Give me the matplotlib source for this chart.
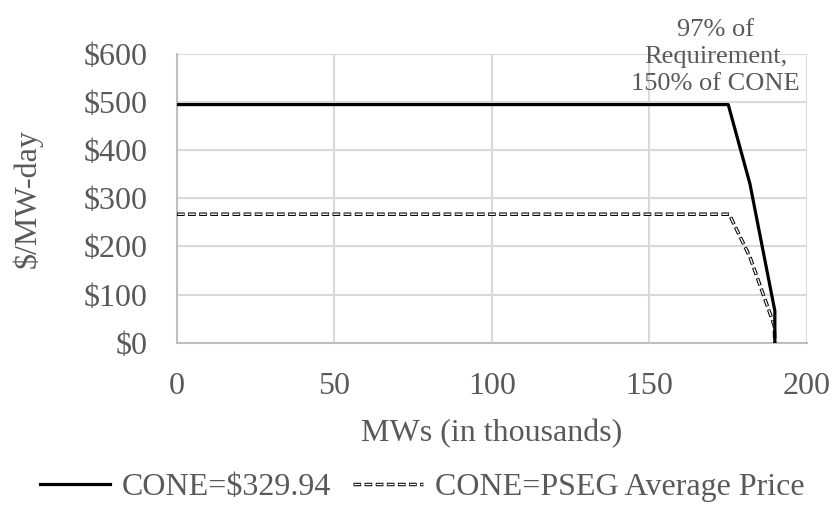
import matplotlib.pyplot as plt
from matplotlib.lines import Line2D
from matplotlib.legend_handler import HandlerTuple

plt.rcParams['font.family'] = ['Liberation Serif', 'DejaVu Serif']
plt.rcParams['lines.scale_dashes'] = False

# data (MW in thousands, $/MW-day)
cone_x = [0, 175, 181.9, 189.8, 189.8]
cone_y = [494.91, 494.91, 329.94, 66.0, 0]
pseg_x = [0, 175.3, 181.9, 189.6, 189.8]
pseg_y = [267, 267, 178, 36, 0]
xticks = [0, 50, 100, 150, 200]
yticks = [0, 100, 200, 300, 400, 500, 600]
ylabels = ['$' + str(v) for v in yticks]

txt = '#595959'
black_ls = (0, (5.5, 2.5))
white_ls = (7.5, (4.5, 3.5))   # shifted so white sits inside each black dash

fig = plt.figure(figsize=(8.34, 5.15), dpi=100)
ax = fig.add_axes([0.2122, 0.3346, 0.7554, 0.5605])

ax.plot(cone_x, cone_y, color='black', lw=2.3, zorder=4)
ax.plot(pseg_x, pseg_y, color='black', lw=2.5, linestyle=black_ls, zorder=3)
ax.plot(pseg_x, pseg_y, color='white', lw=1.0, linestyle=white_ls, zorder=3.5)

ax.set_xlim(0, 200)
ax.set_ylim(0, 600)
ax.set_xticks(xticks)
ax.set_yticks(yticks)
ax.set_yticklabels(ylabels)
ax.grid(color='#d9d9d9', lw=1.5)
ax.set_axisbelow(True)
for s in ['top', 'right']:
    ax.spines[s].set_visible(False)
for s in ['left', 'bottom']:
    ax.spines[s].set_color('#bfbfbf')
    ax.spines[s].set_linewidth(1.5)
ax.tick_params(length=0, labelsize=23, labelcolor=txt)
ax.tick_params(axis='x', pad=21)
ax.tick_params(axis='y', pad=21)
ax.set_xlabel('MWs (in thousands)', fontsize=23, color=txt, labelpad=13)
ax.set_ylabel('$/MW-day', fontsize=23, color=txt, labelpad=30)

ax.text(171, 593, '97% of\nRequirement,\n150% of CONE', ha='center', va='center',
        fontsize=19, color=txt, linespacing=1.3, clip_on=False)

h1 = Line2D([], [], color='black', lw=2.3)
hb = Line2D([], [], color='black', lw=2.5, linestyle=black_ls)
hw = Line2D([], [], color='white', lw=1.0, linestyle=white_ls)
fig.legend([h1, (hb, hw)], ['CONE=$329.94', 'CONE=PSEG Average Price'],
           handler_map={tuple: HandlerTuple(ndivide=1, pad=0)},
           loc='center', bbox_to_anchor=(0.506, 0.054), ncol=2, frameon=False,
           fontsize=23, labelcolor=txt, handlelength=2.2, handletextpad=0.35,
           columnspacing=0.7, borderpad=0)

fig.savefig('out.png', dpi=100)
